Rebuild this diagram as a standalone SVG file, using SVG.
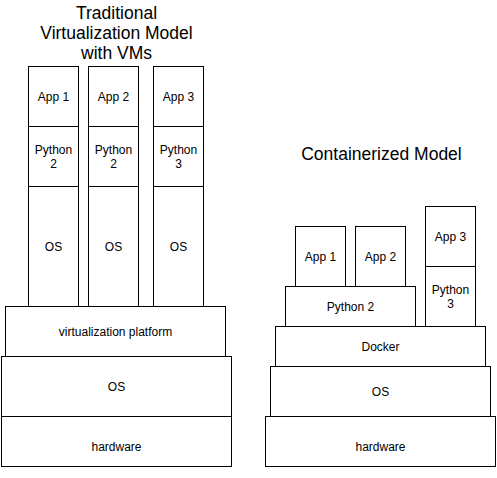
<svg xmlns="http://www.w3.org/2000/svg" width="497" height="478" viewBox="0 0 497 478">
<style>
rect{fill:#fff;stroke:#000;stroke-width:1}
text{font-family:"Liberation Sans",Arial,sans-serif;font-size:12px;fill:#000;text-anchor:middle}
.t{font-size:17.5px}
</style>
<rect x="0" y="0" width="497" height="478" style="stroke:none"/>
<g id="title-left"><text class="t" x="116.5" y="18.5">Traditional</text><text class="t" x="116.5" y="38.5">Virtualization Model</text><text class="t" x="116.5" y="58.5">with VMs</text></g>
<g id="title-right"><text class="t" x="381.5" y="159.5">Containerized Model</text></g>
<g id="vm1"><rect x="28.5" y="66.5" width="50" height="60"/><text x="53.5" y="100.5">App 1</text><rect x="28.5" y="126.5" width="50" height="60"/><text x="53.5" y="154">Python</text><text x="53.5" y="168">2</text><rect x="28.5" y="186.5" width="50" height="120"/><text x="53.5" y="250.5">OS</text></g>
<g id="vm2"><rect x="88.5" y="66.5" width="50" height="60"/><text x="113.5" y="100.5">App 2</text><rect x="88.5" y="126.5" width="50" height="60"/><text x="113.5" y="154">Python</text><text x="113.5" y="168">2</text><rect x="88.5" y="186.5" width="50" height="120"/><text x="113.5" y="250.5">OS</text></g>
<g id="vm3"><rect x="153.5" y="66.5" width="50" height="60"/><text x="178.5" y="100.5">App 3</text><rect x="153.5" y="126.5" width="50" height="60"/><text x="178.5" y="154">Python</text><text x="178.5" y="168">3</text><rect x="153.5" y="186.5" width="50" height="120"/><text x="178.5" y="250.5">OS</text></g>
<g id="virt"><rect x="5.5" y="306.5" width="220" height="50"/><text x="115.5" y="336">virtualization platform</text></g>
<g id="os-left"><rect x="1.5" y="356.5" width="230" height="60"/><text x="116.5" y="391">OS</text></g>
<g id="hw-left"><rect x="1.5" y="416.5" width="230" height="50"/><text x="116.5" y="451">hardware</text></g>
<g id="hw-right"><rect x="265.5" y="416.5" width="230" height="50"/><text x="380.5" y="451">hardware</text></g>
<g id="os-right"><rect x="270.5" y="366.5" width="220" height="50"/><text x="380.5" y="396">OS</text></g>
<g id="docker"><rect x="275.5" y="326.5" width="210" height="40"/><text x="380.5" y="351">Docker</text></g>
<g id="py2"><rect x="285.5" y="286.5" width="130" height="40"/><text x="350.5" y="311">Python 2</text></g>
<g id="app1"><rect x="295.5" y="226.5" width="50" height="60"/><text x="320.5" y="261">App 1</text></g>
<g id="app2"><rect x="355.5" y="226.5" width="50" height="60"/><text x="380.5" y="261">App 2</text></g>
<g id="py3"><rect x="425.5" y="266.5" width="50" height="60"/><text x="450.5" y="294">Python</text><text x="450.5" y="308">3</text></g>
<g id="app3"><rect x="425.5" y="206.5" width="50" height="60"/><text x="450.5" y="241">App 3</text></g>
<g id="connectors"/>
</svg>
